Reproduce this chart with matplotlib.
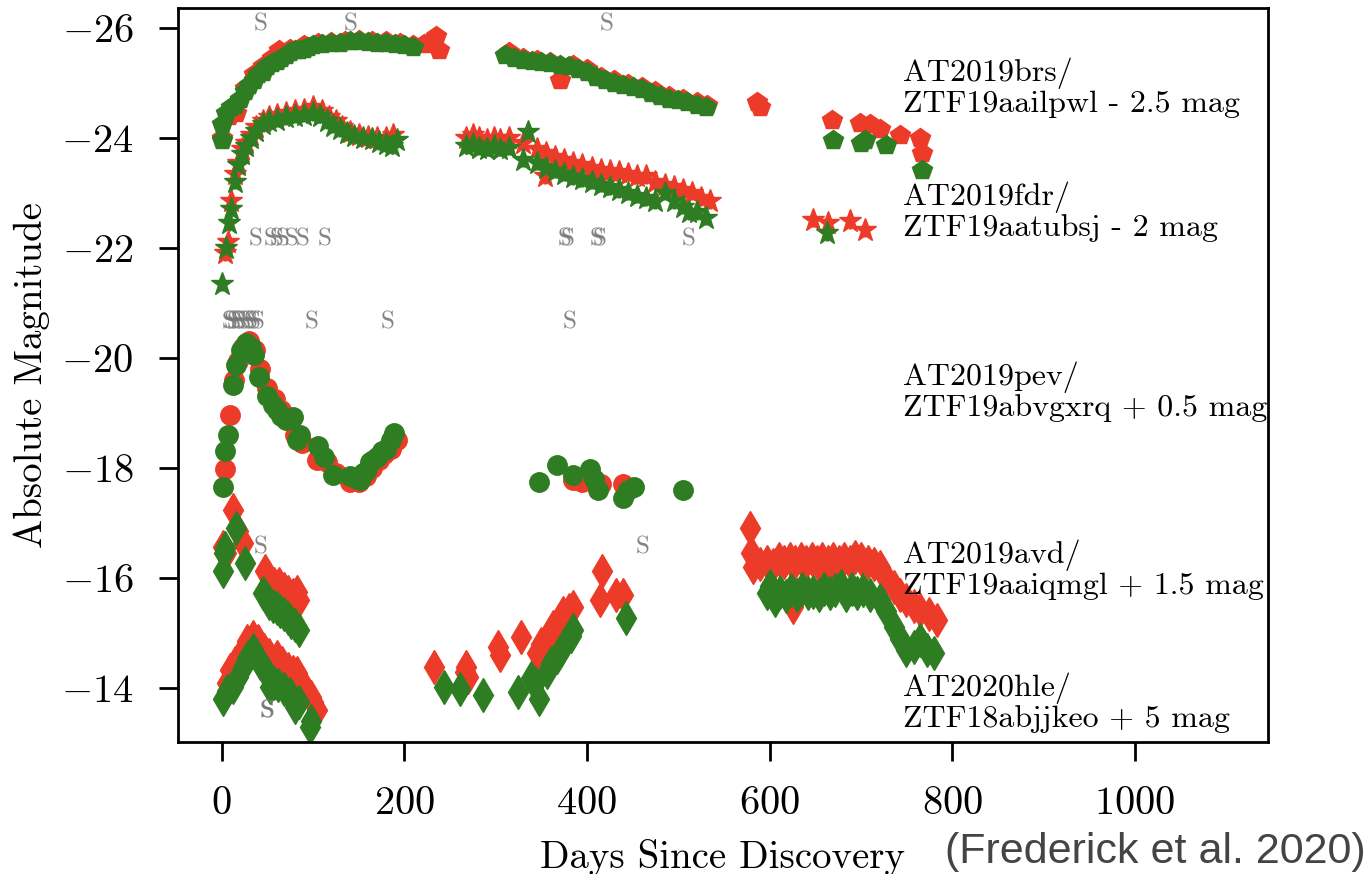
"""Light curves of the TDE / AGN flare candidates, ZTF g (green) and r (red)."""
import matplotlib

matplotlib.use("Agg")
import matplotlib.pyplot as plt

RED = "#ec3b28"
GREEN = "#2f7d22"

# AT2019brs / ZTF19aailpwl (already shifted by -2.5 mag)
BRS_G_DAYS = [0, 0, 5, 10, 15, 20, 25, 30, 35, 40, 45, 50, 55, 60, 65, 70, 75, 80, 85, 90, 95, 100,
              110, 120, 130, 140, 150, 160, 170, 180, 190, 200, 210,
              310, 320, 330, 340, 350, 360, 370, 380, 390, 400, 410, 420, 430, 440, 450, 460, 470,
              480, 490, 500, 510, 520, 530, 670, 700, 705, 728, 767]
BRS_G_MAG = [-24.25, -23.95, -24.45, -24.55, -24.6, -24.7, -24.85, -24.95, -25.05, -25.15, -25.2, -25.3,
             -25.35, -25.4, -25.45, -25.5, -25.55, -25.6, -25.6, -25.62, -25.65, -25.68,
             -25.7, -25.72, -25.73, -25.75, -25.75, -25.74, -25.72, -25.72, -25.7, -25.68, -25.65,
             -25.5, -25.45, -25.42, -25.4, -25.38, -25.35, -25.32, -25.3, -25.25, -25.2, -25.1, -25.05,
             -25.0, -24.95, -24.92, -24.88, -24.82, -24.75, -24.7, -24.68, -24.65, -24.6, -24.55,
             -23.95, -23.9, -23.95, -23.87, -23.42]
BRS_R_DAYS = [0, 8, 16, 25, 35, 45, 55, 63, 75, 90, 105, 120, 135, 150, 165, 180, 195, 210, 222, 230,
              235, 238, 315, 330, 345, 360, 370, 385, 400, 415, 430, 445, 460, 475, 490, 505, 520, 532,
              586, 590, 668, 699, 710, 721, 743, 765, 767]
BRS_R_MAG = [-24.0, -24.4, -24.45, -24.9, -25.15, -25.3, -25.45, -25.6, -25.62, -25.68, -25.72, -25.74,
             -25.76, -25.78, -25.76, -25.75, -25.72, -25.68, -25.7, -25.75, -25.85, -25.6,
             -25.55, -25.45, -25.42, -25.38, -25.05, -25.32, -25.25, -25.1, -25.05, -24.98, -24.92,
             -24.85, -24.75, -24.7, -24.65, -24.6, -24.65, -24.55, -24.33, -24.27, -24.25, -24.15,
             -24.05, -23.99, -23.72]
BRS_ERR = 0.1

# AT2019fdr / ZTF19aatubsj (-2 mag)
FDR_G_DAYS = [0, 5, 8, 10, 14, 18, 22, 27, 32, 38, 45, 52, 60, 70, 80, 90, 100, 108, 115, 122, 130, 137,
              145, 155, 165, 172, 180, 187, 192,
              268, 275, 282, 290, 298, 305, 315,
              330, 335, 345, 355, 365, 375, 385, 395, 405, 415, 425, 435, 445, 455, 465, 475, 485, 495,
              505, 512, 520, 530, 663]
FDR_G_MAG = [-21.35, -22.0, -22.45, -22.7, -23.2, -23.5, -23.7, -23.85, -24.0, -24.12, -24.25, -24.3,
             -24.33, -24.37, -24.4, -24.42, -24.45, -24.4, -24.3, -24.22, -24.15, -24.08, -24.03, -24.0,
             -23.98, -23.92, -23.88, -23.85, -23.95,
             -23.85, -23.88, -23.82, -23.8, -23.85, -23.8, -23.82,
             -23.6, -24.1, -23.55, -23.45, -23.4, -23.35, -23.28, -23.25, -23.2, -23.15, -23.1, -23.05,
             -23.0, -22.95, -22.9, -22.85, -23.0, -22.85, -22.75, -22.65, -22.65, -22.55, -22.27]
FDR_R_DAYS = [3, 7, 10, 14, 18, 22, 27, 32, 38, 45, 52, 60, 70, 80, 90, 100, 110, 118, 125, 132, 140,
              150, 160, 170, 180, 188,
              268, 275, 282, 290, 298, 305, 315,
              330, 345, 354, 355, 365, 375, 385, 395, 405, 415, 425, 435, 445, 455, 465, 475, 485, 495,
              505, 515, 525, 535, 648, 664, 688, 705]
FDR_R_MAG = [-21.9, -22.1, -22.85, -23.35, -23.55, -23.8, -23.9, -24.05, -24.2, -24.3, -24.38, -24.42,
             -24.45, -24.48, -24.5, -24.55, -24.48, -24.38, -24.3, -24.2, -24.1, -24.05, -24.02, -24.0,
             -24.0, -24.05,
             -24.0, -24.05, -24.0, -23.95, -24.0, -23.95, -24.0,
             -23.9, -23.8, -23.3, -23.72, -23.65, -23.6, -23.55, -23.5, -23.45, -23.42, -23.4, -23.38,
             -23.35, -23.3, -23.3, -23.2, -23.15, -23.1, -23.05, -23.0, -22.9, -22.85,
             -22.51, -22.45, -22.48, -22.33]
FDR_ERR = 0.14

# AT2019pev / ZTF19abvgxrq (+0.5 mag)
PEV_G_DAYS = [1, 3, 7, 12, 16, 21, 27, 32, 35, 41, 50, 56, 60, 65, 70, 78, 82, 86, 105, 112, 122, 140,
              148, 151, 155, 158, 162, 166, 170, 175, 180, 185, 189,
              347, 367, 385, 403, 408, 412, 440, 445, 452, 505]
PEV_G_MAG = [-17.66, -18.3, -18.6, -19.51, -19.87, -20.15, -20.27, -20.2, -20.05, -19.66, -19.3, -19.15,
             -19.05, -18.95, -18.88, -18.93, -18.51, -18.6, -18.39, -18.2, -17.87, -17.85, -17.8, -17.78,
             -17.9, -17.95, -18.1, -18.15, -18.2, -18.3, -18.35, -18.5, -18.63,
             -17.75, -18.05, -17.87, -17.99, -17.8, -17.6, -17.45, -17.6, -17.65, -17.6]
PEV_R_DAYS = [3, 9, 13, 18, 23, 30, 36, 42, 50, 58, 65, 72, 80, 88, 104, 115, 125, 140, 150, 158, 165,
              172, 178, 185, 192, 385, 395, 405, 415, 440]
PEV_R_MAG = [-17.99, -18.96, -19.6, -19.95, -20.2, -20.3, -20.15, -19.8, -19.45, -19.25, -19.05, -18.9,
             -18.6, -18.45, -18.15, -18.1, -17.9, -17.75, -17.75, -17.85, -18.0, -18.15, -18.25, -18.35,
             -18.5, -17.78, -17.75, -17.8, -17.7, -17.7]
PEV_ERR = 0.12

# AT2019avd / ZTF19aaiqmgl (+1.5 mag)
AVD_G_DAYS = [1.5, 2, 3, 16, 25, 45, 48, 52, 56, 60, 64, 68, 72, 76, 80, 85,
              597, 600, 606, 612, 618, 624, 630, 636, 642, 648, 654, 660, 666, 672, 678, 684, 690, 696,
              702, 710, 721, 728, 736, 743, 750, 758, 765, 772, 780]
AVD_G_MAG = [-16.12, -16.45, -16.55, -16.9, -16.27, -15.72, -15.65, -15.55, -15.5, -15.45, -15.4, -15.35,
             -15.28, -15.2, -15.15, -15.05,
             -15.72, -15.85, -15.6, -15.75, -15.68, -15.78, -15.7, -15.8, -15.72, -15.75, -15.7, -15.8,
             -15.72, -15.78, -15.85, -15.7, -15.8, -15.72, -15.78, -15.7, -15.6, -15.4, -15.11, -14.9,
             -14.69, -14.75, -14.87, -14.7, -14.63]
AVD_R_DAYS = [1.5, 5, 12, 18, 23, 47, 52, 57, 63, 68, 73, 78, 82, 85,
              579, 580, 582, 590, 597, 604, 610, 616, 622, 626, 628, 634, 640, 646, 652, 658, 663, 664,
              670, 676, 682, 688, 694, 700, 708, 714, 721, 728, 736, 743, 750, 758, 765, 775, 783]
AVD_R_MAG = [-16.57, -16.45, -17.24, -16.85, -16.63, -16.12, -16.0, -15.9, -15.9, -15.8, -15.75, -15.7,
             -15.75, -15.6,
             -16.9, -16.45, -16.2, -16.25, -16.3, -16.24, -16.35, -16.3, -16.35, -15.48, -16.3, -16.35,
             -16.3, -16.35, -16.3, -16.35, -15.96, -16.3, -16.35, -16.3, -16.35, -16.3, -16.38, -16.35,
             -16.3, -16.25, -16.2, -16.0, -15.84, -15.7, -15.6, -15.5, -15.42, -15.35, -15.24]
AVD_ERR = 0.07

# AT2020hle / ZTF18abjjkeo (+5 mag)
HLE_G_DAYS = [1.5, 6, 12.4, 18, 23, 28, 34, 38, 42, 46, 49, 52.6, 57, 62, 68, 74.5, 80, 85, 96.4, 98,
              243, 261, 286, 325, 339, 343, 347, 356, 361, 367, 372, 378, 382, 385, 443]
HLE_G_MAG = [-13.81, -13.95, -14.02, -14.2, -14.39, -14.55, -14.69, -14.6, -14.45, -14.35, -14.27, -14.02,
             -14.1, -14.05, -13.98, -13.9, -13.66, -13.75, -13.3, -13.4,
             -14.02, -13.99, -13.87, -13.93, -14.18, -14.1, -13.81, -14.3, -14.45, -14.57, -14.7, -14.87,
             -14.95, -15.05, -15.27]
HLE_R_DAYS = [6, 8.8, 15, 22, 28, 34, 40, 46, 52, 60, 66, 72, 78, 82, 88, 98, 100, 104,
              233, 266, 268, 270, 303, 305, 328, 345, 350, 356, 360, 363, 368, 374, 380, 385,
              414, 416, 432, 440]
HLE_R_MAG = [-14.1, -14.33, -14.45, -14.65, -14.85, -14.93, -14.85, -14.7, -14.6, -14.57, -14.45, -14.35,
             -14.3, -14.27, -14.1, -13.84, -13.75, -13.6,
             -14.39, -14.3, -14.39, -14.2, -14.75, -14.6, -14.93, -14.63, -14.8, -14.87, -15.0, -15.11,
             -15.2, -15.36, -15.42, -15.48, -15.6, -16.12, -15.69, -15.69]
HLE_ERR = 0.07

# spectrum epochs ("S" marks)
SPEC_BRS = [43, 141, 421]
SPEC_FDR = [37, 53, 60, 67, 76, 89, 113, 376, 379, 410, 414, 511]
SPEC_PEV = [7, 10, 13, 17, 20, 24, 28, 31, 35, 39, 98, 182, 381]
SPEC_AVD = [43, 461]
SPEC_HLE = [49, 50]

LABELS = [
    ("AT2019brs/\nZTF19aailpwl - 2.5 mag", -24.91),
    ("AT2019fdr/\nZTF19aatubsj - 2 mag", -22.65),
    ("AT2019pev/\nZTF19abvgxrq + 0.5 mag", -19.38),
    ("AT2019avd/\nZTF19aaiqmgl + 1.5 mag", -16.15),
    ("AT2020hle/\nZTF18abjjkeo + 5 mag", -13.73),
]

plt.rcParams["font.family"] = "serif"
plt.rcParams["font.serif"] = ["cmr10"]
plt.rcParams["mathtext.fontset"] = "cm"
plt.rcParams["axes.formatter.use_mathtext"] = True

fig = plt.figure(figsize=(13.72, 8.74), dpi=100)
ax = fig.add_axes([0.1297, 0.151, 0.7945, 0.84])

series = [
    (BRS_R_DAYS, BRS_R_MAG, BRS_G_DAYS, BRS_G_MAG, BRS_ERR, "p", 15),
    (FDR_R_DAYS, FDR_R_MAG, FDR_G_DAYS, FDR_G_MAG, FDR_ERR, "*", 17),
    (PEV_R_DAYS, PEV_R_MAG, PEV_G_DAYS, PEV_G_MAG, PEV_ERR, "o", 14),
    (AVD_R_DAYS, AVD_R_MAG, AVD_G_DAYS, AVD_G_MAG, AVD_ERR, "d", 17),
    (HLE_R_DAYS, HLE_R_MAG, HLE_G_DAYS, HLE_G_MAG, HLE_ERR, "d", 17),
]
for rd, rm, gd, gm, err, mk, ms in series:
    ax.errorbar(rd, rm, yerr=err, fmt=mk, ms=ms, color=RED, mec=RED, elinewidth=2.5, capsize=0)
    ax.errorbar(gd, gm, yerr=err, fmt=mk, ms=ms, color=GREEN, mec=GREEN, elinewidth=2.5, capsize=0)

for days, y in [(SPEC_BRS, -26.05), (SPEC_FDR, -22.15), (SPEC_PEV, -20.65),
                (SPEC_AVD, -16.55), (SPEC_HLE, -13.57)]:
    for d in days:
        ax.text(d, y, "S", color="#777777", fontsize=18, ha="center", va="center", alpha=0.9)

for text, y in LABELS:
    ax.text(746, y, text, fontsize=23, ha="left", va="center", linespacing=1.05)

ax.set_xlim(-48, 1146)
ax.set_ylim(-13.02, -26.36)
ax.set_xticks([0, 200, 400, 600, 800, 1000])
ax.set_yticks([-26, -24, -22, -20, -18, -16, -14])
ax.tick_params(labelsize=29, length=14, width=2, pad=18)
for sp in ax.spines.values():
    sp.set_linewidth(2)
ax.set_xlabel("Days Since Discovery", fontsize=28, labelpad=12)
ax.set_ylabel("Absolute Magnitude", fontsize=28, labelpad=8)

fig.text(0.689, 0.025, "(Frederick et al. 2020)", fontsize=31, color="#444444",
         family="Liberation Sans", va="center")

fig.savefig("out.png", dpi=100)
